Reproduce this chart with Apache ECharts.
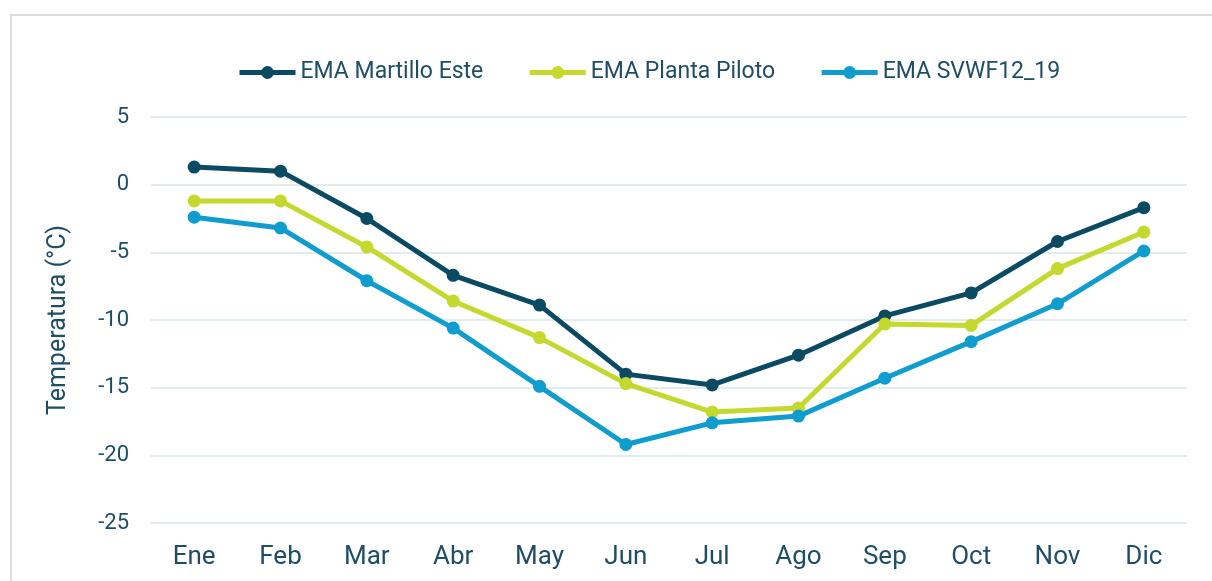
<!DOCTYPE html>
<html>
<head>
<meta charset="utf-8">
<script src="https://cdn.jsdelivr.net/npm/echarts@6/dist/echarts.min.js"></script>
<style>
  html, body { margin: 0; padding: 0; background: #fff; }
  #chart { width: 1212px; height: 581px; }
</style>
</head>
<body>
<div id="chart"></div>
<script>
// meses
const months = ['Ene', 'Feb', 'Mar', 'Abr', 'May', 'Jun', 'Jul', 'Ago', 'Sep', 'Oct', 'Nov', 'Dic']
const seriesNames = ['EMA Martillo Este', 'EMA Planta Piloto', 'EMA SVWF12_19']
const martilloEste = [1.3, 1.0, -2.5, -6.7, -8.9, -14.0, -14.8, -12.6, -9.7, -8.0, -4.2, -1.7]
const plantaPiloto = [-1.2, -1.2, -4.6, -8.6, -11.3, -14.7, -16.8, -16.5, -10.3, -10.4, -6.2, -3.5]
const svwf = [-2.4, -3.2, -7.1, -10.6, -14.9, -19.2, -17.6, -17.1, -14.3, -11.6, -8.8, -4.9]
const colors = ['#0b4a63', '#c4d82e', '#0f9ccf']

const textColor = '#1d4e66'
const chart = echarts.init(document.getElementById('chart'))

function lineSeries(name, data, color) {
  return {
    name: name,
    type: 'line',
    data: data,
    symbol: 'circle',
    symbolSize: 13,
    lineStyle: { width: 5, color: color },
    itemStyle: { color: color },
    emphasis: { disabled: true }
  }
}

chart.setOption({
  animation: false,
  textStyle: { fontFamily: 'Roboto' },
  graphic: [{
    type: 'rect',
    left: 10,
    top: 14,
    shape: { width: 1230, height: 620 },
    style: { fill: 'transparent', stroke: '#dcdcdc', lineWidth: 2 },
    silent: true
  }],
  legend: {
    top: 56,
    left: 232,
    itemWidth: 56,
    itemHeight: 16,
    itemGap: 44,
    lineStyle: { width: 5 },
    textStyle: { color: textColor, fontSize: 23, fontFamily: 'Roboto' },
    data: seriesNames
  },
  grid: {
    left: 151,
    right: 25,
    top: 117,
    bottom: 58
  },
  xAxis: {
    type: 'category',
    data: months,
    boundaryGap: true,
    axisLine: { show: false },
    axisTick: { show: false },
    axisLabel: { color: textColor, fontSize: 26, margin: 21 }
  },
  yAxis: {
    type: 'value',
    min: -25,
    max: 5,
    interval: 5,
    name: 'Temperatura (°C)',
    nameLocation: 'middle',
    nameGap: 80,
    nameTextStyle: { color: textColor, fontSize: 25 },
    axisLine: { show: false },
    axisTick: { show: false },
    axisLabel: { color: textColor, fontSize: 22, margin: 22 },
    splitLine: { lineStyle: { color: '#d9e4e8', width: 1.5 } }
  },
  series: [
    lineSeries(seriesNames[0], martilloEste, colors[0]),
    lineSeries(seriesNames[1], plantaPiloto, colors[1]),
    lineSeries(seriesNames[2], svwf, colors[2])
  ]
})
</script>
</body>
</html>
